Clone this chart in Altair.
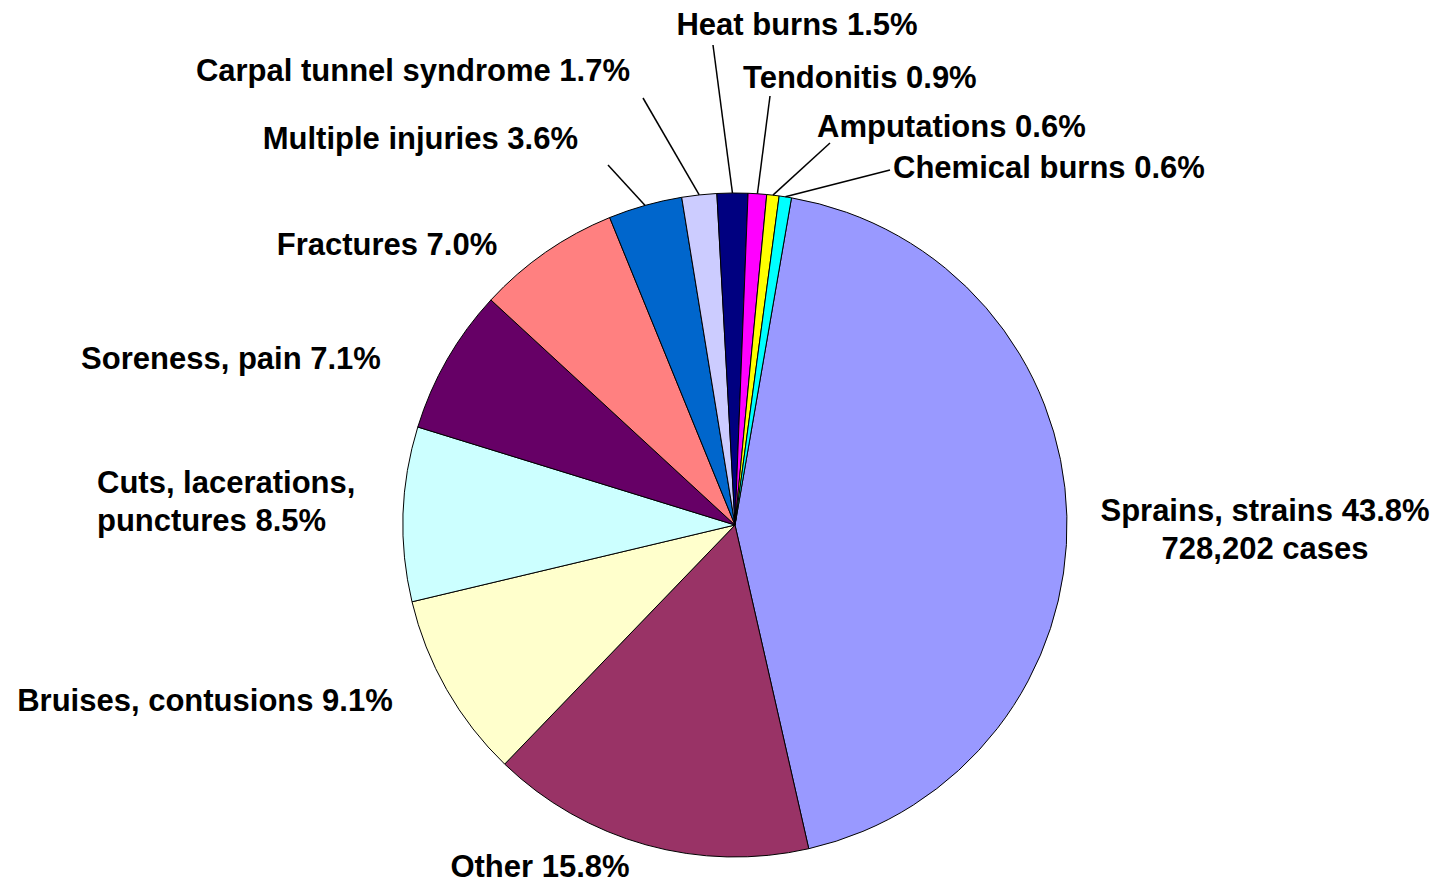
import altair as alt
import pandas as pd
import numpy as np

# ---- data ----
categories = ["Sprains, strains", "Other", "Bruises, contusions",
              "Cuts, lacerations, punctures", "Soreness, pain", "Fractures",
              "Multiple injuries", "Carpal tunnel syndrome", "Heat burns",
              "Tendonitis", "Amputations", "Chemical burns"]
percents = [43.8, 15.8, 9.1, 8.5, 7.1, 7.0, 3.6, 1.7, 1.5, 0.9, 0.6, 0.6]
labels = ["Sprains, strains 43.8%\n728,202 cases", "Other 15.8%",
          "Bruises, contusions 9.1%", "Cuts, lacerations,\npunctures 8.5%",
          "Soreness, pain 7.1%", "Fractures 7.0%", "Multiple injuries 3.6%",
          "Carpal tunnel syndrome 1.7%", "Heat burns 1.5%", "Tendonitis 0.9%",
          "Amputations 0.6%", "Chemical burns 0.6%"]
colors = ["#9999FF", "#993366", "#FFFFCC", "#CCFFFF", "#660066", "#FF8080",
          "#0066CC", "#CCCCFF", "#000080", "#FF00FF", "#FFFF00", "#00FFFF"]

# ---- layout (styling, not data) ----
W, H = 1423, 876
CX, CY, R = 727, 517, 332
START = np.radians(9.8)
FS = 31
# label anchor offsets from pie centre and alignment
label_dx = [530, -195, -530, -638, -504, -348, -157, -105, 62, 8, 82, 158]
label_dy = [-13, 343, 177, -41, -165, -279, -385, -453, -499, -446, -397, -356]
label_align = ["center", "center", "center", "left", "center", "center",
               "right", "right", "center", "left", "left", "left"]
# leader line end offsets (None = no leader)
leader_end = [None, None, None, None, None, None,
              (-127, -360), (-92, -427), (-22, -480), (35, -429), (95, -382), (155, -355)]

df = pd.DataFrame({"idx": range(len(categories)), "cat": categories,
                   "pct": percents, "label": labels})

# label positions
df_lab = df.copy()
df_lab["lx"] = [CX + d for d in label_dx]
df_lab["ly"] = [CY + d for d in label_dy]
df_lab["align"] = label_align

# leader lines: start at pie edge at slice mid-angle
tot = sum(percents)
cum = np.cumsum([0] + percents)
mids = START + 2 * np.pi * (cum[:-1] + np.array(percents) / 2) / tot
rows = []
for i, e in enumerate(leader_end):
    if e is None:
        continue
    rows.append({"x": CX + R * np.sin(mids[i]), "y": CY - R * np.cos(mids[i]),
                 "x2": CX + e[0], "y2": CY + e[1]})
df_lead = pd.DataFrame(rows)

pie = alt.Chart(df).mark_arc(radius=R, stroke="black", strokeWidth=1).encode(
    theta=alt.Theta("pct:Q", stack=True,
                    scale=alt.Scale(range=[float(START), float(START + 2 * np.pi)])),
    color=alt.Color("cat:N", scale=alt.Scale(domain=categories, range=colors), legend=None),
    order=alt.Order("idx:Q"),
    x=alt.value(CX), y=alt.value(CY),
)

leaders = alt.Chart(df_lead).mark_rule(color="black", strokeWidth=1.5).encode(
    x=alt.X("x:Q", scale=None), y=alt.Y("y:Q", scale=None),
    x2="x2:Q", y2="y2:Q",
)

text_layers = []
for a in ["left", "center", "right"]:
    text_layers.append(
        alt.Chart(df_lab).transform_filter(alt.datum.align == a).mark_text(
            font="Liberation Sans", fontWeight="bold", fontSize=FS, align=a,
            baseline="middle", lineBreak="\n", lineHeight=38, color="black",
        ).encode(
            x=alt.X("lx:Q", scale=None), y=alt.Y("ly:Q", scale=None), text="label:N",
        )
    )

chart = alt.layer(pie, leaders, *text_layers).properties(
    width=W, height=H, autosize=alt.AutoSizeParams(type="none"), padding=0,
    background="white",
).configure_view(strokeWidth=0)

chart.save("out.html", embed_options={"renderer": "svg", "actions": False})
